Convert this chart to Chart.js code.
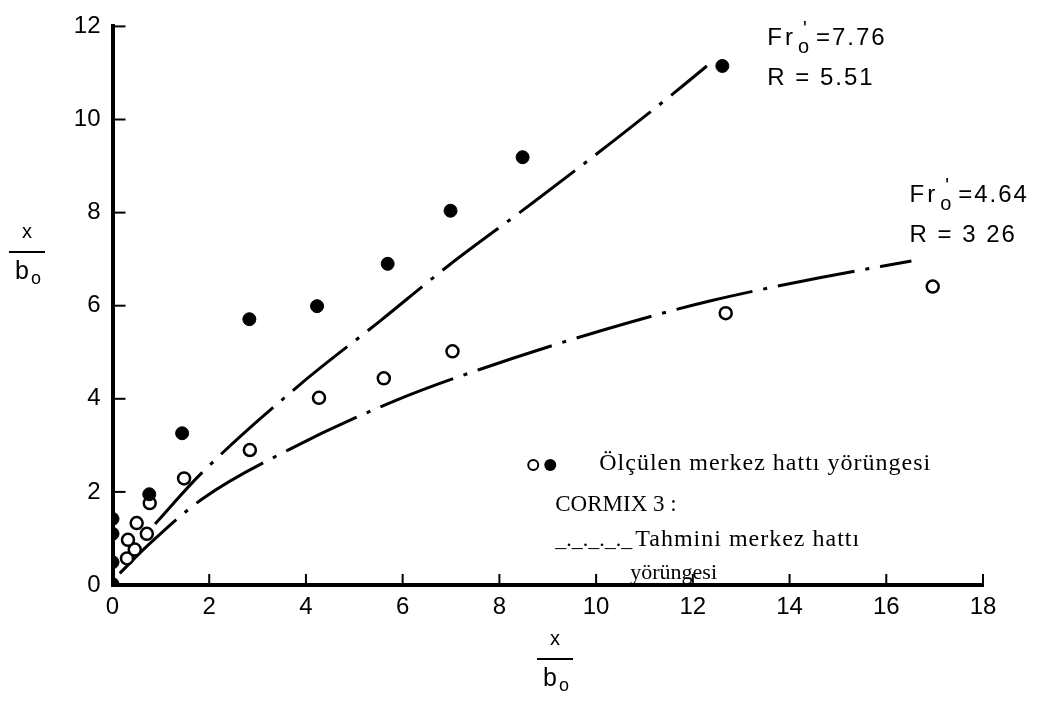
<!DOCTYPE html>
<html>
<head>
<meta charset="utf-8">
<script src="https://cdn.jsdelivr.net/npm/chart.js@4.4.1/dist/chart.umd.min.js"></script>
<style>
html, body { margin: 0; padding: 0; background: #fff; }
#wrap { position: relative; width: 1044px; height: 709px; }
</style>
</head>
<body>
<div id="wrap"><canvas id="trajectory-chart" width="1044" height="709"></canvas></div>
<script>
"use strict";

//=> Measured centreline, Fr'o = 7.76 (filled circles)
var filledX = [0, 0, 0, 0, 0.76, 1.44, 2.83, 4.23, 5.69, 6.99, 8.48, 12.61];
var filledY = [0.02, 0.49, 1.10, 1.42, 1.95, 3.26, 5.71, 5.99, 6.90, 8.04, 9.19, 11.15];

//=> Measured centreline, Fr'o = 4.64 (open circles)
var openX = [0.30, 0.46, 0.32, 0.71, 0.50, 0.77, 1.48, 2.84, 4.27, 5.61, 7.03, 12.68, 16.96];
var openY = [0.57, 0.76, 0.97, 1.10, 1.33, 1.76, 2.29, 2.90, 4.02, 4.44, 5.02, 5.84, 6.41];

//=> CORMIX 3 predicted trajectory, Fr'o = 7.76
var predHighX = [0.88, 1.81, 3.87, 5.53, 6.97, 8.69, 10.42, 11.67, 12.29];
var predHighY = [1.31, 2.37, 4.30, 5.67, 6.88, 8.21, 9.59, 10.62, 11.15];

//=> CORMIX 3 predicted trajectory, Fr'o = 4.64
var predLowX = [0.15, 0.73, 1.87, 3.67, 5.80, 7.59, 10.22, 12.35, 14.62, 16.52];
var predLowY = [0.25, 0.85, 1.86, 2.92, 3.94, 4.63, 5.50, 6.10, 6.60, 6.96];

//=> Axis ticks
var xTicks = [0, 2, 4, 6, 8, 10, 12, 14, 16, 18];
var yTicks = [0, 2, 4, 6, 8, 10, 12];

function toPoints(xs, ys) {
    return xs.map(function (x, i) { return { x: x, y: ys[i] }; });
}

var SANS = '"Liberation Sans", Arial, sans-serif';
var SERIF = '"Liberation Serif", "Times New Roman", serif';

//=> x / b_o fraction used for both axis titles
function drawFraction(ctx, cx, cy) {
    ctx.save();
    ctx.fillStyle = '#000';
    ctx.strokeStyle = '#000';
    ctx.textAlign = 'center';
    ctx.textBaseline = 'middle';
    ctx.font = '20px ' + SANS;
    ctx.fillText('x', cx, cy - 20);
    ctx.lineWidth = 2;
    ctx.beginPath();
    ctx.moveTo(cx - 18, cy);
    ctx.lineTo(cx + 18, cy);
    ctx.stroke();
    ctx.font = '25px ' + SANS;
    ctx.fillText('b', cx - 5, cy + 20);
    ctx.font = '18px ' + SANS;
    ctx.fillText('o', cx + 9, cy + 27);
    ctx.restore();
}

//=> Fr'o = value / R = value labels
function drawFroude(ctx, x, y, fr, r) {
    ctx.save();
    ctx.fillStyle = '#000';
    ctx.textAlign = 'left';
    ctx.textBaseline = 'middle';
    ctx.letterSpacing = '3px';
    ctx.font = '24px ' + SANS;
    ctx.fillText('Fr', x, y);
    var w = ctx.measureText('Fr').width;
    ctx.letterSpacing = '2px';
    ctx.font = '20px ' + SANS;
    ctx.fillText('o', x + w + 2, y + 9);
    ctx.fillText("'", x + w + 7, y - 9);
    ctx.font = '24px ' + SANS;
    ctx.fillText('=' + fr, x + w + 20, y);
    ctx.fillText('R = ' + r, x, y + 40);
    ctx.restore();
}

var annotations = {
    id: 'annotations',
    afterDatasetsDraw: function (chart) {
        var ctx = chart.ctx;
        var xs = chart.scales.x, ys = chart.scales.y;
        var area = chart.chartArea;

        // inward tick marks
        ctx.save();
        ctx.strokeStyle = '#000';
        ctx.lineWidth = 2;
        xTicks.forEach(function (v) {
            if (v === 0) return;
            var px = xs.getPixelForValue(v);
            ctx.beginPath();
            ctx.moveTo(px, area.bottom);
            ctx.lineTo(px, area.bottom - 11);
            ctx.stroke();
        });
        yTicks.forEach(function (v) {
            if (v === 0) return;
            var py = ys.getPixelForValue(v);
            ctx.beginPath();
            ctx.moveTo(area.left, py);
            ctx.lineTo(area.left + 13, py);
            ctx.stroke();
        });
        ctx.restore();

        // axis titles
        drawFraction(ctx, 27, 252);
        drawFraction(ctx, xs.getPixelForValue(9.15), 659);

        // Froude labels
        drawFroude(ctx, xs.getPixelForValue(13.54), ys.getPixelForValue(11.75), '7.76', '5.51');
        drawFroude(ctx, xs.getPixelForValue(16.48), ys.getPixelForValue(8.36), '4.64', '3 26');

        // key
        var kx = xs.getPixelForValue(8.7), ky = ys.getPixelForValue(2.6);
        ctx.save();
        ctx.strokeStyle = '#000';
        ctx.fillStyle = '#000';
        ctx.lineWidth = 2;
        ctx.beginPath();
        ctx.arc(kx, ky + 1, 5, 0, Math.PI * 2);
        ctx.stroke();
        ctx.beginPath();
        ctx.arc(kx + 17, ky + 1, 6, 0, Math.PI * 2);
        ctx.fill();
        ctx.textAlign = 'left';
        ctx.textBaseline = 'middle';
        ctx.font = '23px ' + SERIF;
        ctx.fillText('CORMIX 3 :', kx + 22, ky + 41);
        ctx.font = '22px ' + SERIF;
        ctx.fillText('_._._._._', kx + 22, ky + 76);
        ctx.fillText('yörüngesi', kx + 97, ky + 109);
        ctx.font = '24px ' + SERIF;
        ctx.letterSpacing = '1px';
        ctx.fillText('Ölçülen merkez hattı yörüngesi', kx + 66, ky);
        ctx.fillText('Tahmini merkez hattı', kx + 102, ky + 76);
        ctx.restore();
    }
};

var ctx = document.getElementById('trajectory-chart').getContext('2d');
var chart = new Chart(ctx, {
    type: 'scatter',
    data: {
        datasets: [{
            label: 'Measured, Fr\'o = 7.76',
            data: toPoints(filledX, filledY),
            pointRadius: 6.5,
            pointBackgroundColor: '#000',
            pointBorderColor: '#000',
            pointBorderWidth: 1
        }, {
            label: 'Measured, Fr\'o = 4.64',
            data: toPoints(openX, openY),
            pointRadius: 6,
            pointBackgroundColor: '#fff',
            pointBorderColor: '#000',
            pointBorderWidth: 2.5
        }, {
            label: 'CORMIX 3, Fr\'o = 7.76',
            data: toPoints(predHighX, predHighY),
            showLine: true,
            borderColor: '#000',
            borderWidth: 3,
            borderDash: [70, 11, 4, 11],
            cubicInterpolationMode: 'monotone',
            pointRadius: 0
        }, {
            label: 'CORMIX 3, Fr\'o = 4.64',
            data: toPoints(predLowX, predLowY),
            showLine: true,
            borderColor: '#000',
            borderWidth: 3,
            borderDash: [78, 11, 4, 11],
            cubicInterpolationMode: 'monotone',
            pointRadius: 0
        }]
    },
    options: {
        responsive: false,
        animation: false,
        layout: { padding: { top: 18, right: 61, left: 0, bottom: 0 } },
        plugins: {
            legend: { display: false },
            tooltip: { enabled: false }
        },
        scales: {
            x: {
                type: 'linear',
                min: 0,
                max: 18,
                afterFit: function (scale) { scale.height = 124; },
                afterBuildTicks: function (scale) {
                    scale.ticks = xTicks.map(function (v) { return { value: v }; });
                },
                grid: { display: false, drawTicks: false },
                border: { display: true, color: '#000', width: 4 },
                ticks: {
                    color: '#000',
                    padding: 8,
                    maxRotation: 0,
                    font: { family: SANS, size: 24 }
                }
            },
            y: {
                type: 'linear',
                min: 0,
                max: 12,
                afterFit: function (scale) { scale.width = 112.5; },
                afterBuildTicks: function (scale) {
                    scale.ticks = yTicks.map(function (v) { return { value: v }; });
                },
                grid: { display: false, drawTicks: false },
                border: { display: true, color: '#000', width: 4 },
                ticks: {
                    color: '#000',
                    padding: 12,
                    font: { family: SANS, size: 24 }
                }
            }
        }
    },
    plugins: [annotations]
});
</script>
</body>
</html>
